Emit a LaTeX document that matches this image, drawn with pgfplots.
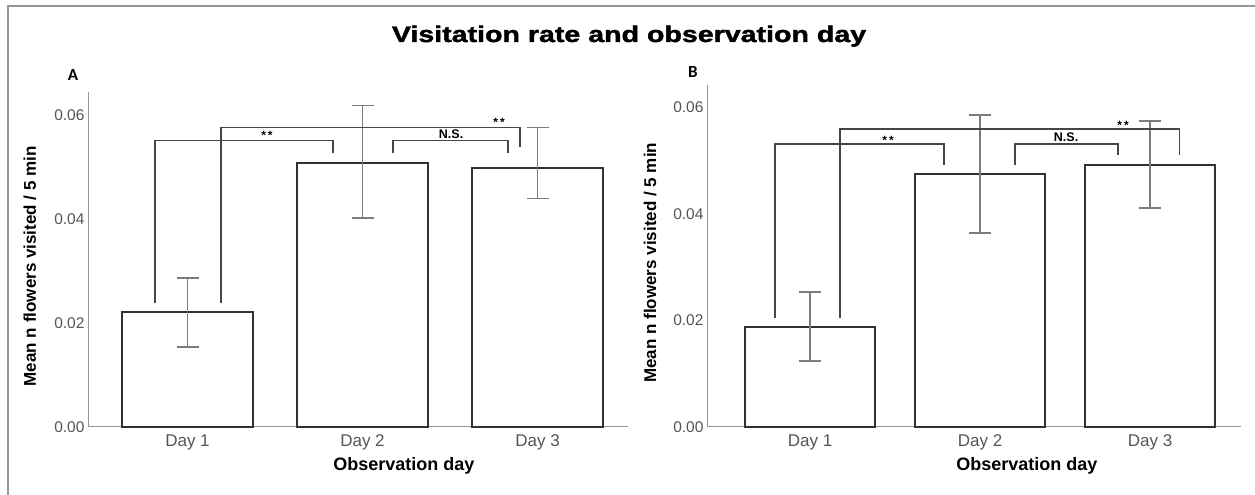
\documentclass[border=0pt]{standalone}
\usepackage{fontspec}
\setmainfont{Liberation Sans}
\newfontfamily\carlito{Carlito}
\newfontfamily\titlefont[FakeBold=1.8,FakeStretch=1.27]{Liberation Sans Bold}
\usepackage{pgfplots}
\usepackage{pgfplotstable}
\pgfplotsset{compat=1.18}
\definecolor{axgray}{RGB}{150,150,150}
\definecolor{bardark}{RGB}{50,50,50}
\definecolor{errgray}{RGB}{125,125,125}
\definecolor{tickgray}{RGB}{85,85,85}
\definecolor{brgray}{RGB}{70,70,70}

\pgfplotstableread{
x y ep em
0 0.02212 0.00653 0.00674
1 0.05077 0.01096 0.01058
2 0.04981 0.00769 0.00596
}\dataA
\pgfplotstableread{
x y ep em
0 0.01875 0.00656 0.00637
1 0.04744 0.01106 0.01106
2 0.04913 0.00825 0.00807
}\dataB

\pgfplotsset{
 bars/.style={ybar, bar width=#1, fill=white, draw=bardark, line width=1.4pt,
    error bars/.cd, y dir=both, y explicit,
    error bar style={draw=errgray, line width=1.2pt},
    error mark options={rotate=90, draw=errgray, line width=1.2pt, mark size=11pt}},
 bracket/.style={draw=brgray, line width=1.2pt, sharp plot, mark=none},
 panel/.style={
  scale only axis, clip=false,
  axis lines*=left,
  axis line style={-, draw=axgray, line width=1pt},
  ymin=0,
  xtick={0,1,2}, xticklabels={Day 1,Day 2,Day 3},
  ytick={0,0.02,0.04,0.06},
  major tick length=0pt,
  scaled y ticks=false,
  yticklabel style={/pgf/number format/fixed, /pgf/number format/fixed zerofill, /pgf/number format/precision=2, /pgf/number format/assume math mode=true, font=\fontsize{15.5}{18}\selectfont, text=tickgray},
  xticklabel style={font=\fontsize{17}{20}\selectfont, text=tickgray, yshift=-4pt},
  ylabel={Mean n flowers visited / 5 min},
  xlabel={Observation day},
}}

\begin{document}
\begin{tikzpicture}
\path[use as bounding box] (0pt,0pt) rectangle (1255pt,495pt);
\draw[draw=axgray, line width=1.8pt] (8pt,0pt) -- (8pt,489pt) -- (1255pt,489pt);
\node[anchor=base, font=\titlefont\fontsize{22.5}{26}\selectfont] at (629pt,453pt) {Visitation rate and observation day};
\node[font=\carlito\bfseries\fontsize{17}{20}\selectfont] at (73pt,420pt) {A};
\node[font=\carlito\bfseries\fontsize{17}{20}\selectfont] at (693pt,423pt) {B};

% Panel A
\begin{axis}[panel, at={(88pt,68pt)}, anchor=south west,
  width=540pt, height=335pt, xmin=-0.5686, xmax=2.517, ymax=0.0644,
  ylabel style={font=\bfseries\fontsize{17}{20}\selectfont, at={(rel axis cs:-0.1074,0.48)}, anchor=center},
  xlabel style={font=\bfseries\fontsize{18}{21}\selectfont, at={(rel axis cs:0.585,-0.1164)}, anchor=center}]
\addplot[bars=131pt] table[x=x, y=y, y error plus=ep, y error minus=em] {\dataA};
\addplot[bracket] coordinates {(-0.186,0.02385) (-0.186,0.0550) (0.831,0.0550) (0.831,0.0527)};
\addplot[bracket] coordinates {(0.191,0.02385) (0.191,0.0575) (1.900,0.0575) (1.900,0.05385)};
\addplot[bracket] coordinates {(1.174,0.0527) (1.174,0.0550) (1.831,0.0550) (1.831,0.0527)};
\node[font=\bfseries\fontsize{12}{13}\selectfont] at (axis cs:0.454,0.0560) {*\,*};
\node[font=\bfseries\fontsize{12.5}{14}\selectfont] at (axis cs:1.506,0.0562) {N.S.};
\node[font=\bfseries\fontsize{12}{13}\selectfont] at (axis cs:1.780,0.0585) {*\,*};
\end{axis}

% Panel B
\begin{axis}[panel, at={(707pt,68pt)}, anchor=south west,
  width=534pt, height=342pt, xmin=-0.606, xmax=2.535, ymax=0.06413,
  ylabel style={font=\bfseries\fontsize{17}{20}\selectfont, at={(rel axis cs:-0.1067,0.48)}, anchor=center},
  xlabel style={font=\bfseries\fontsize{18}{21}\selectfont, at={(rel axis cs:0.599,-0.114)}, anchor=center}]
\addplot[bars=130pt] table[x=x, y=y, y error plus=ep, y error minus=em] {\dataB};
\addplot[bracket] coordinates {(-0.206,0.02044) (-0.206,0.05307) (0.788,0.05307) (0.788,0.04913)};
\addplot[bracket] coordinates {(0.176,0.02044) (0.176,0.05588) (2.171,0.05588) (2.171,0.0510)};
\addplot[bracket] coordinates {(1.206,0.04913) (1.206,0.05307) (1.812,0.05307) (1.812,0.0510)};
\node[font=\bfseries\fontsize{12}{13}\selectfont] at (axis cs:0.459,0.0538) {*\,*};
\node[font=\bfseries\fontsize{12.5}{14}\selectfont] at (axis cs:1.506,0.0544) {N.S.};
\node[font=\bfseries\fontsize{12}{13}\selectfont] at (axis cs:1.841,0.0566) {*\,*};
\end{axis}
\end{tikzpicture}
\end{document}
